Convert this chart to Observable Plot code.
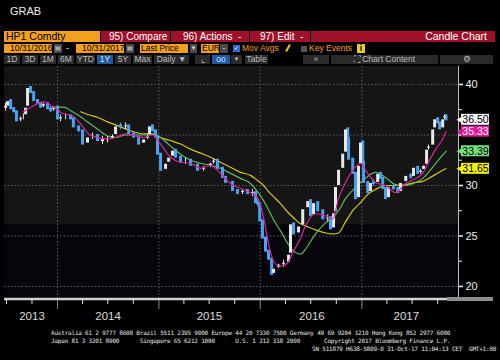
<!DOCTYPE html>
<html><head><meta charset="utf-8">
<script src="https://cdn.jsdelivr.net/npm/d3@7"></script>
<script src="https://cdn.jsdelivr.net/npm/@observablehq/plot@0.6"></script>
<style>
body{margin:0;background:#000;width:500px;height:360px;overflow:hidden;position:relative;font-family:"Liberation Sans",Arial,sans-serif;}
.t{position:absolute;top:31px;height:11px;line-height:11px;font-size:10px;white-space:pre;box-sizing:border-box;overflow:hidden}
.s{position:absolute;top:44px;height:9px;line-height:9px;font-size:8.5px;white-space:pre;box-sizing:border-box;overflow:hidden}
.b{position:absolute;top:55px;height:9px;line-height:9px;font-size:8.5px;white-space:pre;box-sizing:border-box;overflow:hidden;background:#2a2a2a;color:#bdbdbd;text-align:center}
.or{background:#f59f1f;color:#000}
.rd{background:#9f1029;color:#fff}
.gy{background:#4a4a4a;color:#ddd;text-align:center}
.ft{position:absolute;font-family:"DejaVu Sans Mono",monospace;font-size:6px;letter-spacing:-0.2px;line-height:8px;color:#e8e8e8;white-space:pre}
#chart{position:absolute;left:0;top:66px}
</style></head>
<body>
<div style="position:absolute;left:10px;top:5px;font-size:11px;color:#eee">GRAB</div>

<div class="t or" style="left:4px;width:96px;padding-left:2px;font-size:10.5px">HP1 Comdty</div>
<div class="t rd" style="left:101px;width:69px;padding-left:8px">95) Compare</div>
<div class="t rd" style="left:171px;width:78px;padding-left:12px">96) Actions  -</div>
<div class="t rd" style="left:250px;width:60px;padding-left:10px">97) Edit  -</div>
<div class="t rd" style="left:311px;width:184px;padding-right:8px;text-align:right;font-size:10.5px">Candle Chart</div>

<div class="s or" style="left:4px;width:48px;padding-left:6px">10/31/2016</div>
<div class="s gy" style="left:54px;width:8px;font-size:6px">▤</div>
<div class="s" style="left:66px;color:#fff">-</div>
<div class="s or" style="left:76px;width:48px;padding-left:6px">10/31/2017</div>
<div class="s gy" style="left:126px;width:8px;font-size:6px">▤</div>
<div class="s or" style="left:140px;width:48px;padding-left:1px">Last Price</div>
<div class="s gy" style="left:190px;width:7px;font-size:6px">▼</div>
<div class="s or" style="left:201px;width:18px;padding-left:1px">EUR</div>
<div class="s gy" style="left:220px;width:8px">-</div>
<div class="s" style="left:233px;top:45px;width:7px;height:7px;background:#2a6fd6;color:#fff;font-size:6px;line-height:7px;text-align:center">✓</div>
<div class="s" style="left:242px;color:#f59f1f">Mov Avgs</div>
<div style="position:absolute;left:287px;top:44px;width:2px;height:8px;background:#f2c21b;transform:rotate(30deg)"></div>
<div class="s" style="left:301px;top:46px;width:6px;height:6px;background:#555"></div>
<div class="s" style="left:309px;color:#f59f1f">Key Events</div>
<div class="s" style="left:357px;width:8px;background:#e6d21a;color:#000;text-align:center;font-weight:bold">i</div>

<div class="b" style="left:4px;width:16px">1D</div>
<div class="b" style="left:22px;width:16px">3D</div>
<div class="b" style="left:40px;width:16px">1M</div>
<div class="b" style="left:58px;width:16px">6M</div>
<div class="b" style="left:76px;width:19px">YTD</div>
<div class="b" style="left:97px;width:16px;background:#1f5aa0;color:#cfe3ff">1Y</div>
<div class="b" style="left:115px;width:16px">5Y</div>
<div class="b" style="left:133px;width:19px">Max</div>
<div class="b" style="left:154px;width:35px">Daily ▼</div>
<div class="b" style="left:195px;width:15px">⌞</div>
<div class="b" style="left:212px;width:18px;background:#1f5aa0;color:#cfe3ff">oo</div>
<div class="b" style="left:231px;width:11px;font-size:6px">▼</div>
<div class="b" style="left:245px;width:23px">Table</div>
<div class="b" style="left:303px;width:26px">«</div>
<div class="b" style="left:331px;width:107px">⛶ Chart Content</div>
<div class="b" style="left:440px;width:53px">⚙</div>

<div id="chart"></div>
<div style="position:absolute;left:447px;top:297px;width:46px;height:4px;background:#8c8c8c"></div>

<div class="ft" style="left:51px;top:329px">Australia 61 2 9777 8600 Brazil 5511 2395 9000 Europe 44 20 7330 7500 Germany 49 69 9204 1210 Hong Kong 852 2977 6000
Japan 81 3 3201 8900      Singapore 65 6212 1000      U.S. 1 212 318 2000       Copyright 2017 Bloomberg Finance L.P.</div>
<div class="ft" style="left:312px;top:345px">SN 511879 H638-5809-0 31-Oct-17 11:04:13 CET  GMT+1:00</div>

<script>
// ---- data ----
const priceDates = ["2013-06-28","2013-07-05","2013-07-16","2013-07-27","2013-08-06","2013-08-21","2013-08-31","2013-09-08","2013-09-15","2013-09-26","2013-10-07","2013-10-21","2013-11-01","2013-11-11","2013-11-26","2013-12-07","2013-12-18",
"2014-01-01","2014-01-12","2014-01-30","2014-02-17","2014-02-27","2014-03-18","2014-04-01","2014-04-19","2014-05-07","2014-05-25","2014-06-12","2014-06-30","2014-07-18","2014-07-29","2014-08-16","2014-09-03","2014-09-14","2014-10-02","2014-10-20","2014-11-07","2014-11-21","2014-11-28","2014-12-09","2014-12-20","2014-12-27",
"2015-01-07","2015-01-25","2015-02-05","2015-02-19","2015-03-02","2015-03-20","2015-04-07","2015-04-25","2015-05-20","2015-06-11","2015-07-06","2015-07-17","2015-07-31","2015-08-18","2015-08-29","2015-09-23","2015-10-11","2015-10-29","2015-11-16","2015-12-04","2015-12-15","2015-12-22","2015-12-30",
"2016-01-09","2016-01-20","2016-01-31","2016-02-11","2016-02-18","2016-03-07","2016-03-25","2016-04-12","2016-04-19","2016-04-30","2016-05-18","2016-06-02","2016-06-20","2016-06-30","2016-07-11","2016-07-26","2016-08-13","2016-08-31","2016-09-10","2016-09-21","2016-09-28","2016-10-09","2016-10-24","2016-11-03","2016-11-11","2016-11-14","2016-11-29","2016-12-09","2016-12-20","2016-12-27",
"2017-01-04","2017-01-07","2017-01-22","2017-02-01","2017-02-12","2017-02-27","2017-03-09","2017-03-17","2017-03-27","2017-04-07","2017-04-25","2017-05-10","2017-05-20","2017-06-08","2017-06-26","2017-07-06","2017-07-21","2017-08-01","2017-08-11","2017-08-22","2017-08-29","2017-09-13","2017-09-20","2017-10-01","2017-10-08","2017-10-19","2017-10-26","2017-10-31"];
const closes = [37.75,38.4,37.6,37.3,36.4,36.7,36.9,37.75,39.7,39.2,38.4,38.1,37.75,38.1,37.6,37.4,37.75,
36.6,36.7,36.9,36.6,35.8,35.4,34.1,34.8,34.95,34.45,34.45,34.6,34.95,35.9,35.8,35.9,35.1,34.8,34.1,34.6,34.95,35.9,35.4,34.8,33.1,
31.5,32.2,32.8,33.5,32.8,32.3,32.5,32.0,31.5,31.8,32.2,32.5,31.7,30.8,30.3,29.5,29.2,29.5,29.2,29.3,28.3,28.2,26.5,
24.8,23.5,22.7,21.2,21.8,22.2,22.3,23.2,26.2,25.2,26.0,27.7,28.5,27.0,28.3,27.5,26.7,26.8,25.7,27.3,29.9,31.6,33.2,35.6,34.6,32.6,31.2,28.7,32.0,34.3,
32.3,30.3,29.3,30.3,30.2,31.2,30.7,29.7,28.7,29.9,29.7,29.3,30.3,31.0,30.8,31.8,31.2,31.5,32.0,33.6,33.9,35.6,36.6,36.2,35.6,36.6,36.9,36.5];

const maDates = ["2013-08-31","2013-10-07","2013-11-11","2013-12-18",
"2014-01-22","2014-02-24","2014-03-25","2014-04-23","2014-05-25","2014-06-30","2014-07-29","2014-09-03","2014-10-02","2014-11-07","2014-12-09",
"2015-01-07","2015-02-12","2015-03-20","2015-04-25","2015-05-31","2015-07-06","2015-08-11","2015-09-16","2015-10-22","2015-11-27","2015-12-22",
"2016-01-13","2016-01-31","2016-02-18","2016-03-14","2016-04-08","2016-04-30","2016-05-25","2016-06-12","2016-07-18","2016-08-23","2016-09-18","2016-10-09","2016-11-03","2016-12-02","2016-12-27",
"2017-01-22","2017-02-19","2017-03-27","2017-05-02","2017-06-08","2017-07-14","2017-08-08","2017-08-29","2017-09-24","2017-10-19","2017-10-31"];
const ma50 = [37.3,37.9,38.3,37.75,
37.1,36.9,36.1,35.1,34.75,34.6,34.75,35.1,34.95,34.75,35.0,
34.1,32.8,32.3,32.2,31.7,32.0,31.2,30.2,29.7,29.3,28.8,
26.8,24.2,22.5,22.0,22.3,23.5,24.8,26.0,27.2,27.0,26.7,28.7,30.3,31.6,32.2,
31.2,30.3,30.0,29.3,30.2,30.7,31.2,32.3,33.6,34.6,35.33];
const ma100 = [null,null,null,37.75,
37.75,37.3,36.8,36.2,35.6,34.9,34.75,35.0,35.0,35.0,35.1,
34.75,33.9,33.1,32.5,32.2,32.0,31.7,31.2,30.7,30.2,29.4,
28.5,27.6,26.6,25.5,24.3,23.5,23.2,23.7,25.2,26.3,26.8,27.5,28.7,29.6,30.3,
30.9,31.3,30.8,30.1,30.0,30.3,30.7,31.3,32.2,33.0,33.39];
const ma200 = [null,null,null,null,
null,null,37.3,37.0,36.75,36.3,36.0,35.6,35.3,35.1,35.1,
34.75,34.45,34.1,33.6,33.2,32.8,32.3,31.8,31.3,31.0,30.5,
30.0,29.4,28.9,28.2,27.4,26.8,26.2,26.0,25.6,25.3,25.2,25.3,26.4,27.6,28.3,
29.1,29.6,30.0,30.0,30.1,30.3,30.4,30.7,31.1,31.5,31.65];

const lastValues = [36.50, 35.33, 33.39, 31.65];
const yTicks = [20, 25, 30, 35, 40];
const yTickLabels = [20, 25, 30, 40];
const yMinorTicks = [22.5, 27.5, 32.5, 37.5];
const yearStarts = ["2014-01-01","2015-01-01","2016-01-01","2017-01-01"];
const quarterTicks = ["2013-07-01","2013-10-01","2014-04-01","2014-07-01","2014-10-01","2015-04-01","2015-07-01","2015-10-01","2016-04-01","2016-07-01","2016-10-01","2017-04-01","2017-07-01","2017-10-01"];
const yearLabels = ["2013","2014","2015","2016","2017"];
const yearLabelDates = ["2013-10-01","2014-07-02","2015-07-02","2016-07-05","2017-06-10"];

// ---- view settings ----
const xDom = [new Date("2013-06-24"), new Date("2017-12-15")];
const yDom = [18.81, 41.78];
const shadeFloor = 26.15;
const boxFill = ["#f4f4f4", "#e0189b", "#74e07a", "#f2f200"];
const boxText = ["#000", "#fff", "#000", "#000"];
const maColor = {ma50: "#d8239e", ma100: "#5fb85a", ma200: "#d6c41c"};
const upColor = "#e8e8e8", downColor = "#4aa2f2";

const candles = closes.map((c, i) => ({date: new Date(priceDates[i]), close: c, open: i ? closes[i - 1] : c}));
const up = candles.filter(d => d.close >= d.open);
const down = candles.filter(d => d.close < d.open);
const maRows = maDates.map((d, i) => ({date: new Date(d), a: ma50[i], b: ma100[i], c: ma200[i]}));

const candleMarks = (data, color) => [
  Plot.ruleX(data, {x: "date", y1: d => Math.min(d.open, d.close), y2: d => Math.max(d.open, d.close), stroke: color, strokeWidth: 1, insetTop: -4, insetBottom: -4}),
  Plot.ruleX(data, {x: "date", y1: "open", y2: "close", stroke: color, strokeWidth: 3, insetTop: -1, insetBottom: -1})
];

const labelMarks = lastValues.flatMap((v, i) => [
  Plot.dot([v], {x: () => xDom[1], y: d => d, symbol: "triangle", r: 3.2, rotate: -90, dx: 3, fill: boxFill[i]}),
  Plot.rect([v], {x1: () => xDom[1], x2: () => xDom[1], y1: d => d, y2: d => d, insetLeft: 3, insetRight: -31, insetTop: -5.5, insetBottom: -5.5, fill: boxFill[i]}),
  Plot.text([v], {x: () => xDom[1], y: d => d, text: d => d.toFixed(2), dx: 17, fill: boxText[i], fontSize: 10.5, textAnchor: "middle"})
]);

const chart = Plot.plot({
  width: 500, height: 260,
  marginLeft: 4, marginRight: 42, marginTop: 0, marginBottom: 28,
  x: {type: "utc", domain: xDom, label: null},
  y: {domain: yDom, label: null},
  style: {background: "transparent", color: "#eeeeee", fontFamily: "'Liberation Sans Narrow','Liberation Sans',Arial,sans-serif", fontSize: "11px"},
  marks: [
    Plot.rect([0], {x1: () => xDom[0], x2: () => xDom[1], y1: () => yDom[0], y2: () => shadeFloor, fill: "#05050b"}),
    Plot.rect([0], {x1: () => xDom[0], x2: () => xDom[1], y1: () => shadeFloor, y2: () => yDom[1], fill: "#151515"}),
    Plot.ruleY(yTicks, {stroke: "#5e5e5e", strokeDasharray: "1.5,2"}),
    Plot.ruleX(yearStarts, {x: d => new Date(d), stroke: "#5e5e5e", strokeDasharray: "1.5,2"}),
    Plot.line(maRows, {x: "date", y: "c", stroke: maColor.ma200, strokeWidth: 1.2, curve: "monotone-x"}),
    Plot.line(maRows, {x: "date", y: "b", stroke: maColor.ma100, strokeWidth: 1.2, curve: "monotone-x"}),
    ...candleMarks(down, downColor),
    ...candleMarks(up, upColor),
    Plot.line(maRows, {x: "date", y: "a", stroke: maColor.ma50, strokeWidth: 1.2, curve: "monotone-x"}),
    Plot.ruleX([0], {x: () => xDom[1], stroke: "#bdbdbd"}),
    Plot.ruleY([0], {y: () => yDom[0], stroke: "#d2d2d2", strokeWidth: 2.5, dy: 0.5}),
    Plot.axisY(yTicks, {anchor: "right", tickSize: 4, strokeWidth: 1.5, tickFormat: () => "", label: null}),
    Plot.axisY(yTickLabels, {anchor: "right", tickSize: 0, tickPadding: 7, fontSize: 11, label: null}),
    Plot.axisY(yMinorTicks, {anchor: "right", tickSize: 3, tickFormat: () => "", label: null}),
    Plot.axisX(quarterTicks.map(d => new Date(d)), {anchor: "bottom", tickSize: 4, dy: 2, tickFormat: () => "", stroke: "#dddddd", label: null}),
    Plot.axisX(yearStarts.map(d => new Date(d)), {anchor: "bottom", tickSize: 9, dy: 2, tickFormat: () => "", stroke: "#8a8a8a", label: null}),
    Plot.text(yearLabels, {x: (d, i) => new Date(yearLabelDates[i]), text: d => d, frameAnchor: "bottom", dy: 21, fill: "#dcdcdc", fontSize: 11.5}),
    ...labelMarks
  ]
});
document.getElementById("chart").appendChild(chart);
</script>
</body></html>
